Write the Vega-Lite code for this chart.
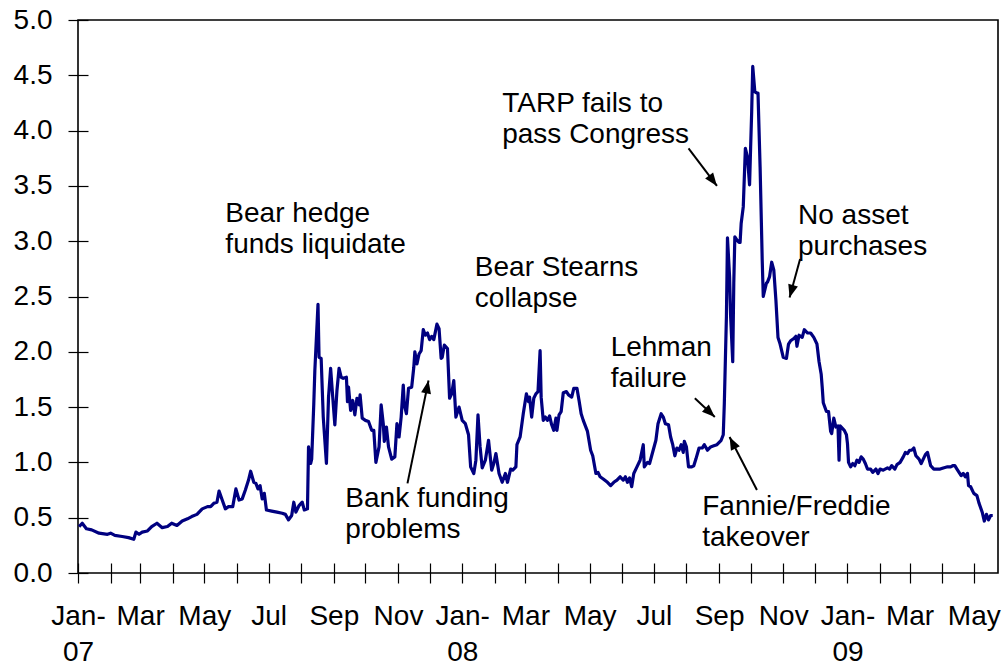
{
  "$schema": "https://vega.github.io/schema/vega-lite/v6.json",
  "width": 920,
  "height": 553,
  "autosize": "none",
  "padding": {"left": 78, "top": 20, "right": 6, "bottom": 95},
  "background": "white",
  "config": {
    "view": {"stroke": "black", "strokeWidth": 1.6},
    "font": "Liberation Sans",
    "text": {"font": "Liberation Sans"}
  },
  "datasets": {
    "series": [
      {"date": "2007-01-02", "v": 0.42}, {"date": "2007-01-05", "v": 0.45}, {"date": "2007-01-09", "v": 0.40},
      {"date": "2007-01-14", "v": 0.39}, {"date": "2007-01-21", "v": 0.36}, {"date": "2007-01-29", "v": 0.35},
      {"date": "2007-02-01", "v": 0.36}, {"date": "2007-02-05", "v": 0.34}, {"date": "2007-02-12", "v": 0.33},
      {"date": "2007-02-18", "v": 0.32}, {"date": "2007-02-23", "v": 0.305}, {"date": "2007-02-25", "v": 0.37},
      {"date": "2007-02-28", "v": 0.35}, {"date": "2007-03-03", "v": 0.37}, {"date": "2007-03-08", "v": 0.38},
      {"date": "2007-03-12", "v": 0.42}, {"date": "2007-03-17", "v": 0.45}, {"date": "2007-03-22", "v": 0.41},
      {"date": "2007-03-27", "v": 0.42}, {"date": "2007-03-31", "v": 0.45}, {"date": "2007-04-05", "v": 0.43},
      {"date": "2007-04-10", "v": 0.47}, {"date": "2007-04-15", "v": 0.49}, {"date": "2007-04-19", "v": 0.51},
      {"date": "2007-04-24", "v": 0.53}, {"date": "2007-04-29", "v": 0.58}, {"date": "2007-05-04", "v": 0.60},
      {"date": "2007-05-07", "v": 0.60}, {"date": "2007-05-10", "v": 0.63}, {"date": "2007-05-13", "v": 0.64},
      {"date": "2007-05-15", "v": 0.74}, {"date": "2007-05-18", "v": 0.66}, {"date": "2007-05-21", "v": 0.58},
      {"date": "2007-05-24", "v": 0.60}, {"date": "2007-05-28", "v": 0.60}, {"date": "2007-05-31", "v": 0.76},
      {"date": "2007-06-03", "v": 0.66}, {"date": "2007-06-06", "v": 0.67}, {"date": "2007-06-09", "v": 0.75},
      {"date": "2007-06-12", "v": 0.84}, {"date": "2007-06-14", "v": 0.92}, {"date": "2007-06-17", "v": 0.82},
      {"date": "2007-06-19", "v": 0.81}, {"date": "2007-06-21", "v": 0.76}, {"date": "2007-06-23", "v": 0.79},
      {"date": "2007-06-25", "v": 0.67}, {"date": "2007-06-27", "v": 0.72}, {"date": "2007-06-29", "v": 0.57},
      {"date": "2007-07-04", "v": 0.56}, {"date": "2007-07-09", "v": 0.55}, {"date": "2007-07-14", "v": 0.54},
      {"date": "2007-07-17", "v": 0.53}, {"date": "2007-07-20", "v": 0.48}, {"date": "2007-07-23", "v": 0.52},
      {"date": "2007-07-25", "v": 0.64}, {"date": "2007-07-27", "v": 0.55}, {"date": "2007-07-30", "v": 0.61},
      {"date": "2007-08-02", "v": 0.64}, {"date": "2007-08-04", "v": 0.57}, {"date": "2007-08-07", "v": 0.58},
      {"date": "2007-08-08", "v": 1.14}, {"date": "2007-08-10", "v": 0.99}, {"date": "2007-08-11", "v": 1.03},
      {"date": "2007-08-13", "v": 1.53}, {"date": "2007-08-14", "v": 1.83}, {"date": "2007-08-17", "v": 2.43},
      {"date": "2007-08-18", "v": 1.95}, {"date": "2007-08-20", "v": 1.94}, {"date": "2007-08-22", "v": 1.41},
      {"date": "2007-08-25", "v": 0.99}, {"date": "2007-08-27", "v": 1.59}, {"date": "2007-08-29", "v": 1.85},
      {"date": "2007-08-31", "v": 1.59}, {"date": "2007-09-02", "v": 1.34}, {"date": "2007-09-04", "v": 1.65},
      {"date": "2007-09-06", "v": 1.85}, {"date": "2007-09-08", "v": 1.77}, {"date": "2007-09-10", "v": 1.76},
      {"date": "2007-09-13", "v": 1.77}, {"date": "2007-09-14", "v": 1.55}, {"date": "2007-09-15", "v": 1.68},
      {"date": "2007-09-17", "v": 1.47}, {"date": "2007-09-19", "v": 1.56}, {"date": "2007-09-21", "v": 1.43},
      {"date": "2007-09-23", "v": 1.58}, {"date": "2007-09-25", "v": 1.52}, {"date": "2007-09-26", "v": 1.61},
      {"date": "2007-09-28", "v": 1.40}, {"date": "2007-10-01", "v": 1.38}, {"date": "2007-10-04", "v": 1.37},
      {"date": "2007-10-07", "v": 1.29}, {"date": "2007-10-09", "v": 1.29}, {"date": "2007-10-11", "v": 1.00},
      {"date": "2007-10-14", "v": 1.14}, {"date": "2007-10-16", "v": 1.52}, {"date": "2007-10-18", "v": 1.35},
      {"date": "2007-10-19", "v": 1.19}, {"date": "2007-10-21", "v": 1.32}, {"date": "2007-10-23", "v": 1.14},
      {"date": "2007-10-26", "v": 1.03}, {"date": "2007-10-29", "v": 1.05}, {"date": "2007-10-31", "v": 1.35},
      {"date": "2007-11-02", "v": 1.23}, {"date": "2007-11-04", "v": 1.41}, {"date": "2007-11-06", "v": 1.70},
      {"date": "2007-11-07", "v": 1.52}, {"date": "2007-11-09", "v": 1.44}, {"date": "2007-11-11", "v": 1.67},
      {"date": "2007-11-14", "v": 1.68}, {"date": "2007-11-16", "v": 1.86}, {"date": "2007-11-17", "v": 2.00},
      {"date": "2007-11-19", "v": 1.89}, {"date": "2007-11-21", "v": 1.98}, {"date": "2007-11-23", "v": 2.01},
      {"date": "2007-11-25", "v": 2.20}, {"date": "2007-11-27", "v": 2.15}, {"date": "2007-11-29", "v": 2.17},
      {"date": "2007-12-01", "v": 2.11}, {"date": "2007-12-03", "v": 2.14}, {"date": "2007-12-05", "v": 2.11},
      {"date": "2007-12-08", "v": 2.25}, {"date": "2007-12-10", "v": 2.21}, {"date": "2007-12-12", "v": 1.94},
      {"date": "2007-12-13", "v": 1.95}, {"date": "2007-12-15", "v": 2.06}, {"date": "2007-12-18", "v": 2.03},
      {"date": "2007-12-20", "v": 1.58}, {"date": "2007-12-22", "v": 1.62}, {"date": "2007-12-24", "v": 1.74},
      {"date": "2007-12-26", "v": 1.41}, {"date": "2007-12-29", "v": 1.50}, {"date": "2008-01-01", "v": 1.38},
      {"date": "2008-01-04", "v": 1.35}, {"date": "2008-01-07", "v": 1.25}, {"date": "2008-01-09", "v": 0.96},
      {"date": "2008-01-12", "v": 0.90}, {"date": "2008-01-14", "v": 1.02}, {"date": "2008-01-16", "v": 1.43},
      {"date": "2008-01-18", "v": 1.14}, {"date": "2008-01-20", "v": 0.95}, {"date": "2008-01-23", "v": 1.02},
      {"date": "2008-01-26", "v": 1.20}, {"date": "2008-01-29", "v": 0.93}, {"date": "2008-01-31", "v": 0.99},
      {"date": "2008-02-02", "v": 1.08}, {"date": "2008-02-05", "v": 0.90}, {"date": "2008-02-08", "v": 0.82},
      {"date": "2008-02-11", "v": 0.90}, {"date": "2008-02-13", "v": 0.82}, {"date": "2008-02-16", "v": 0.94},
      {"date": "2008-02-18", "v": 0.93}, {"date": "2008-02-21", "v": 0.96}, {"date": "2008-02-22", "v": 1.16},
      {"date": "2008-02-25", "v": 1.23}, {"date": "2008-02-28", "v": 1.44}, {"date": "2008-03-02", "v": 1.62},
      {"date": "2008-03-04", "v": 1.55}, {"date": "2008-03-05", "v": 1.59}, {"date": "2008-03-07", "v": 1.41},
      {"date": "2008-03-09", "v": 1.58}, {"date": "2008-03-11", "v": 1.62}, {"date": "2008-03-13", "v": 1.64},
      {"date": "2008-03-15", "v": 2.01}, {"date": "2008-03-16", "v": 1.59}, {"date": "2008-03-18", "v": 1.38},
      {"date": "2008-03-20", "v": 1.41}, {"date": "2008-03-22", "v": 1.38}, {"date": "2008-03-24", "v": 1.42},
      {"date": "2008-03-26", "v": 1.34}, {"date": "2008-03-28", "v": 1.29}, {"date": "2008-03-30", "v": 1.40},
      {"date": "2008-03-31", "v": 1.29}, {"date": "2008-04-02", "v": 1.43}, {"date": "2008-04-04", "v": 1.46},
      {"date": "2008-04-06", "v": 1.63}, {"date": "2008-04-09", "v": 1.64}, {"date": "2008-04-11", "v": 1.61},
      {"date": "2008-04-14", "v": 1.59}, {"date": "2008-04-16", "v": 1.67}, {"date": "2008-04-19", "v": 1.67},
      {"date": "2008-04-21", "v": 1.56}, {"date": "2008-04-23", "v": 1.44}, {"date": "2008-04-25", "v": 1.38},
      {"date": "2008-04-29", "v": 1.28}, {"date": "2008-05-02", "v": 1.11}, {"date": "2008-05-04", "v": 1.06},
      {"date": "2008-05-07", "v": 0.90}, {"date": "2008-05-09", "v": 0.91}, {"date": "2008-05-11", "v": 0.87},
      {"date": "2008-05-14", "v": 0.85}, {"date": "2008-05-18", "v": 0.82}, {"date": "2008-05-21", "v": 0.79},
      {"date": "2008-05-24", "v": 0.82}, {"date": "2008-05-27", "v": 0.84}, {"date": "2008-05-30", "v": 0.87},
      {"date": "2008-06-02", "v": 0.84}, {"date": "2008-06-04", "v": 0.87}, {"date": "2008-06-06", "v": 0.82},
      {"date": "2008-06-08", "v": 0.86}, {"date": "2008-06-10", "v": 0.78}, {"date": "2008-06-12", "v": 0.90},
      {"date": "2008-06-15", "v": 0.96}, {"date": "2008-06-18", "v": 1.02}, {"date": "2008-06-21", "v": 1.16},
      {"date": "2008-06-22", "v": 0.96}, {"date": "2008-06-25", "v": 1.00}, {"date": "2008-06-27", "v": 0.99},
      {"date": "2008-06-29", "v": 1.06}, {"date": "2008-07-03", "v": 1.20}, {"date": "2008-07-05", "v": 1.35},
      {"date": "2008-07-08", "v": 1.44}, {"date": "2008-07-10", "v": 1.41}, {"date": "2008-07-12", "v": 1.35},
      {"date": "2008-07-15", "v": 1.34}, {"date": "2008-07-17", "v": 1.23}, {"date": "2008-07-19", "v": 1.16},
      {"date": "2008-07-21", "v": 1.06}, {"date": "2008-07-23", "v": 1.13}, {"date": "2008-07-25", "v": 1.11},
      {"date": "2008-07-27", "v": 1.16}, {"date": "2008-07-29", "v": 1.09}, {"date": "2008-07-30", "v": 1.19},
      {"date": "2008-08-01", "v": 1.14}, {"date": "2008-08-03", "v": 0.96}, {"date": "2008-08-06", "v": 0.96},
      {"date": "2008-08-08", "v": 0.97}, {"date": "2008-08-10", "v": 1.03}, {"date": "2008-08-13", "v": 1.13},
      {"date": "2008-08-16", "v": 1.13}, {"date": "2008-08-18", "v": 1.16}, {"date": "2008-08-21", "v": 1.11},
      {"date": "2008-08-24", "v": 1.14}, {"date": "2008-08-27", "v": 1.15}, {"date": "2008-08-30", "v": 1.16},
      {"date": "2008-09-03", "v": 1.20}, {"date": "2008-09-05", "v": 1.25}, {"date": "2008-09-06", "v": 1.53},
      {"date": "2008-09-08", "v": 2.32}, {"date": "2008-09-09", "v": 3.03}, {"date": "2008-09-11", "v": 2.68},
      {"date": "2008-09-12", "v": 2.32}, {"date": "2008-09-14", "v": 1.91}, {"date": "2008-09-15", "v": 2.62},
      {"date": "2008-09-16", "v": 3.04}, {"date": "2008-09-18", "v": 3.01}, {"date": "2008-09-20", "v": 2.99},
      {"date": "2008-09-21", "v": 2.99}, {"date": "2008-09-22", "v": 3.16}, {"date": "2008-09-24", "v": 3.31},
      {"date": "2008-09-26", "v": 3.84}, {"date": "2008-09-28", "v": 3.76}, {"date": "2008-09-30", "v": 3.51},
      {"date": "2008-10-01", "v": 3.85}, {"date": "2008-10-02", "v": 4.17}, {"date": "2008-10-03", "v": 4.58},
      {"date": "2008-10-05", "v": 4.35}, {"date": "2008-10-07", "v": 4.34}, {"date": "2008-10-08", "v": 4.34},
      {"date": "2008-10-10", "v": 3.67}, {"date": "2008-10-12", "v": 2.83}, {"date": "2008-10-13", "v": 2.50},
      {"date": "2008-10-16", "v": 2.62}, {"date": "2008-10-17", "v": 2.63}, {"date": "2008-10-19", "v": 2.68},
      {"date": "2008-10-21", "v": 2.81}, {"date": "2008-10-23", "v": 2.74}, {"date": "2008-10-25", "v": 2.47},
      {"date": "2008-10-27", "v": 2.13}, {"date": "2008-10-29", "v": 2.07}, {"date": "2008-11-01", "v": 1.95},
      {"date": "2008-11-04", "v": 1.94}, {"date": "2008-11-06", "v": 2.07}, {"date": "2008-11-08", "v": 2.10},
      {"date": "2008-11-11", "v": 2.12}, {"date": "2008-11-13", "v": 2.14}, {"date": "2008-11-14", "v": 2.05},
      {"date": "2008-11-16", "v": 2.15}, {"date": "2008-11-19", "v": 2.13}, {"date": "2008-11-21", "v": 2.20},
      {"date": "2008-11-24", "v": 2.17}, {"date": "2008-11-27", "v": 2.17}, {"date": "2008-11-30", "v": 2.13},
      {"date": "2008-12-03", "v": 2.07}, {"date": "2008-12-05", "v": 1.91}, {"date": "2008-12-07", "v": 1.80},
      {"date": "2008-12-08", "v": 1.68}, {"date": "2008-12-09", "v": 1.54}, {"date": "2008-12-12", "v": 1.46},
      {"date": "2008-12-14", "v": 1.46}, {"date": "2008-12-16", "v": 1.28}, {"date": "2008-12-17", "v": 1.26},
      {"date": "2008-12-19", "v": 1.40}, {"date": "2008-12-21", "v": 1.32}, {"date": "2008-12-23", "v": 1.33},
      {"date": "2008-12-24", "v": 1.02}, {"date": "2008-12-25", "v": 1.33}, {"date": "2008-12-27", "v": 1.31},
      {"date": "2008-12-29", "v": 1.29}, {"date": "2008-12-31", "v": 1.25}, {"date": "2009-01-01", "v": 1.17},
      {"date": "2009-01-02", "v": 1.00}, {"date": "2009-01-04", "v": 0.96}, {"date": "2009-01-06", "v": 0.99},
      {"date": "2009-01-08", "v": 0.97}, {"date": "2009-01-10", "v": 1.02}, {"date": "2009-01-12", "v": 1.00},
      {"date": "2009-01-14", "v": 1.05}, {"date": "2009-01-16", "v": 1.03}, {"date": "2009-01-18", "v": 0.99},
      {"date": "2009-01-20", "v": 0.94}, {"date": "2009-01-23", "v": 0.94}, {"date": "2009-01-25", "v": 0.91},
      {"date": "2009-01-28", "v": 0.94}, {"date": "2009-01-30", "v": 0.90}, {"date": "2009-02-01", "v": 0.94},
      {"date": "2009-02-04", "v": 0.93}, {"date": "2009-02-08", "v": 0.95}, {"date": "2009-02-10", "v": 0.94},
      {"date": "2009-02-12", "v": 0.97}, {"date": "2009-02-15", "v": 0.94}, {"date": "2009-02-17", "v": 0.98},
      {"date": "2009-02-20", "v": 1.00}, {"date": "2009-02-23", "v": 1.05}, {"date": "2009-02-25", "v": 1.09},
      {"date": "2009-02-27", "v": 1.08}, {"date": "2009-03-01", "v": 1.11}, {"date": "2009-03-03", "v": 1.11},
      {"date": "2009-03-05", "v": 1.13}, {"date": "2009-03-07", "v": 1.06}, {"date": "2009-03-08", "v": 1.05},
      {"date": "2009-03-10", "v": 1.03}, {"date": "2009-03-12", "v": 0.99}, {"date": "2009-03-14", "v": 1.03},
      {"date": "2009-03-16", "v": 1.07}, {"date": "2009-03-18", "v": 1.09}, {"date": "2009-03-21", "v": 0.97},
      {"date": "2009-03-24", "v": 0.94}, {"date": "2009-03-27", "v": 0.94}, {"date": "2009-03-30", "v": 0.94},
      {"date": "2009-04-02", "v": 0.95}, {"date": "2009-04-06", "v": 0.96}, {"date": "2009-04-09", "v": 0.96},
      {"date": "2009-04-11", "v": 0.97}, {"date": "2009-04-13", "v": 0.97}, {"date": "2009-04-15", "v": 0.94},
      {"date": "2009-04-17", "v": 0.91}, {"date": "2009-04-19", "v": 0.88}, {"date": "2009-04-21", "v": 0.90},
      {"date": "2009-04-23", "v": 0.87}, {"date": "2009-04-25", "v": 0.90}, {"date": "2009-04-26", "v": 0.79},
      {"date": "2009-04-28", "v": 0.78}, {"date": "2009-05-01", "v": 0.72}, {"date": "2009-05-04", "v": 0.70},
      {"date": "2009-05-06", "v": 0.63}, {"date": "2009-05-09", "v": 0.55}, {"date": "2009-05-11", "v": 0.47},
      {"date": "2009-05-13", "v": 0.53}, {"date": "2009-05-15", "v": 0.48}, {"date": "2009-05-17", "v": 0.52},
      {"date": "2009-05-19", "v": 0.52}
    ],
    "notes": [
      {"label": "Bear hedge\nfunds liquidate", "date": "2007-05-21", "v": 3.37},
      {"label": "Bear Stearns\ncollapse", "date": "2008-01-13", "v": 2.88},
      {"label": "TARP fails to\npass Congress", "date": "2008-02-08", "v": 4.37},
      {"label": "No asset\npurchases", "date": "2008-11-15", "v": 3.35},
      {"label": "Lehman\nfailure", "date": "2008-05-21", "v": 2.16},
      {"label": "Bank funding\nproblems", "date": "2007-09-12", "v": 0.80},
      {"label": "Fannie/Freddie\ntakeover", "date": "2008-08-16", "v": 0.72}
    ],
    "arrows": [
      {"id": "bank", "date": "2007-11-30", "v": 1.74, "date2": "2007-11-10", "v2": 0.81},
      {"id": "lehman", "date": "2008-08-28", "v": 1.41, "date2": "2008-08-09", "v2": 1.58},
      {"id": "tarp", "date": "2008-08-30", "v": 3.50, "date2": "2008-08-03", "v2": 3.84},
      {"id": "noasset", "date": "2008-11-07", "v": 2.49, "date2": "2008-11-17", "v2": 2.84},
      {"id": "fannie", "date": "2008-09-11", "v": 1.23, "date2": "2008-10-07", "v2": 0.75}
    ]
  },
  "encoding": {
    "x": {
      "field": "date",
      "type": "temporal",
      "scale": {
        "type": "utc",
        "domain": [
          {"year": 2007, "month": 1, "date": 1, "utc": true},
          {"year": 2009, "month": 5, "date": 24, "utc": true}
        ]
      },
      "axis": {
        "title": null,
        "orient": "bottom",
        "offset": -10,
        "domain": false,
        "grid": false,
        "tickCount": {"interval": "month", "step": 1},
        "tickSize": 20,
        "tickColor": "black",
        "tickWidth": 1.2,
        "labelExpr": "utcmonth(datum.value) == 0 ? ['Jan-', utcFormat(datum.value, '%y')] : (utcmonth(datum.value) % 2 == 0 ? utcFormat(datum.value, '%b') : '')",
        "labelFont": "Liberation Sans",
        "labelFontSize": 28,
        "labelColor": "black",
        "labelPadding": 19,
        "labelLineHeight": 36,
        "labelOverlap": false,
        "labelFlush": false,
        "labelBound": false
      }
    },
    "y": {
      "field": "v",
      "type": "quantitative",
      "scale": {"domain": [0, 5], "nice": false},
      "axis": {
        "title": null,
        "offset": -10,
        "domain": false,
        "grid": false,
        "values": [0, 0.5, 1, 1.5, 2, 2.5, 3, 3.5, 4, 4.5, 5],
        "format": ".1f",
        "tickSize": 20,
        "tickColor": "black",
        "tickWidth": 1.2,
        "labelFont": "Liberation Sans",
        "labelFontSize": 28,
        "labelColor": "black",
        "labelPadding": 16,
        "labelOverlap": false,
        "labelFlush": false,
        "labelBound": false
      }
    }
  },
  "layer": [
    {
      "data": {"name": "series"},
      "mark": {"type": "line", "color": "#000080", "strokeWidth": 3.2, "strokeJoin": "round"}
    },
    {
      "data": {"name": "notes"},
      "mark": {"type": "text", "align": "left", "baseline": "top", "fontSize": 28, "lineHeight": 31, "lineBreak": "\n", "color": "black", "font": "Liberation Sans"},
      "encoding": {"text": {"field": "label"}}
    },
    {
      "data": {"name": "arrows"},
      "mark": {"type": "rule", "color": "black", "strokeWidth": 2},
      "encoding": {"x2": {"field": "date2"}, "y2": {"field": "v2"}}
    },
    {
      "data": {"name": "arrows"},
      "transform": [{"filter": "datum.id == 'bank'"}],
      "mark": {"type": "point", "shape": "M0,0L-1,2.6L1,2.6Z", "filled": true, "opacity": 1, "color": "black", "size": 100, "angle": 11}
    },
    {
      "data": {"name": "arrows"},
      "transform": [{"filter": "datum.id == 'lehman'"}],
      "mark": {"type": "point", "shape": "M0,0L-1,2.6L1,2.6Z", "filled": true, "opacity": 1, "color": "black", "size": 100, "angle": 133.5}
    },
    {
      "data": {"name": "arrows"},
      "transform": [{"filter": "datum.id == 'tarp'"}],
      "mark": {"type": "point", "shape": "M0,0L-1,2.6L1,2.6Z", "filled": true, "opacity": 1, "color": "black", "size": 100, "angle": 143}
    },
    {
      "data": {"name": "arrows"},
      "transform": [{"filter": "datum.id == 'noasset'"}],
      "mark": {"type": "point", "shape": "M0,0L-1,2.6L1,2.6Z", "filled": true, "opacity": 1, "color": "black", "size": 100, "angle": 195.7}
    },
    {
      "data": {"name": "arrows"},
      "transform": [{"filter": "datum.id == 'fannie'"}],
      "mark": {"type": "point", "shape": "M0,0L-1,2.6L1,2.6Z", "filled": true, "opacity": 1, "color": "black", "size": 100, "angle": 333.4}
    }
  ]
}
